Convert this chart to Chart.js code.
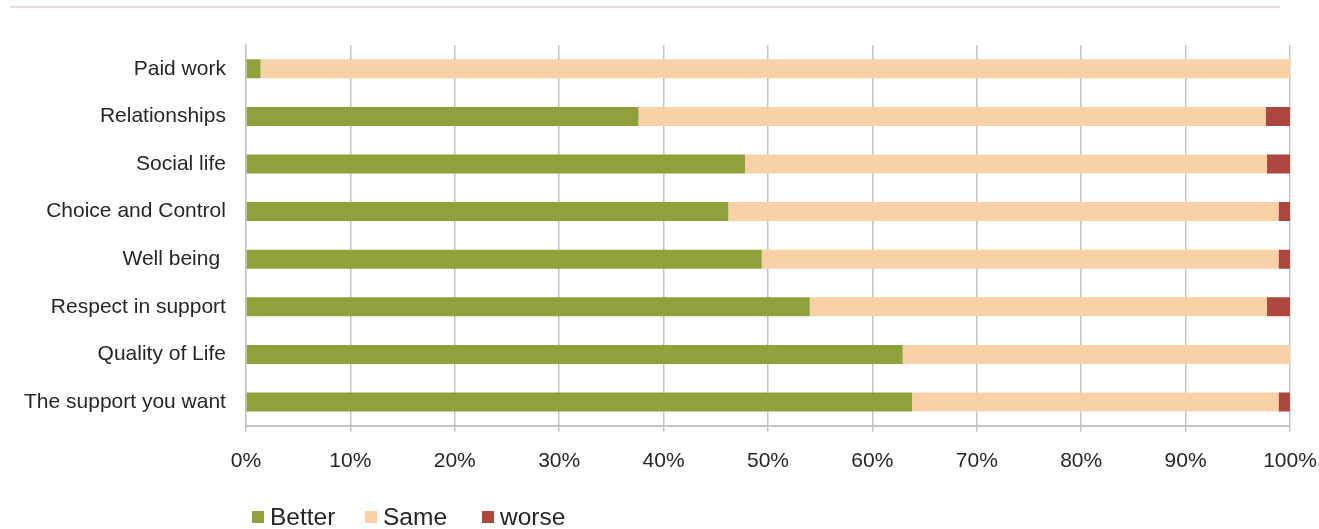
<!DOCTYPE html>
<html>
<head>
<meta charset="utf-8">
<script src="https://cdn.jsdelivr.net/npm/chart.js@4/dist/chart.umd.min.js"></script>
<style>
  html, body { margin: 0; padding: 0; background: #fff; overflow: hidden; }
  #wrap { position: relative; width: 1319px; height: 529px; overflow: hidden; }
  #chart { display: block; }
  #legend span.item { position: absolute; top: 503px; font: 24.5px Arial, "Liberation Sans", sans-serif; color: #262626; white-space: nowrap; }
  #legend i { display: inline-block; width: 12px; height: 12px; margin-right: 6px; vertical-align: 2px; }
</style>
</head>
<body>
<div id="wrap"><canvas id="chart"></canvas><div id="legend"></div></div>
<script>
// categories, top to bottom
var categories = ['Paid work', 'Relationships', 'Social life', 'Choice and Control',
  'Well being ', 'Respect in support', 'Quality of Life', 'The support you want'];

// percentages
var better = [1.4, 37.6, 47.8, 46.2, 49.4, 54.0, 62.9, 63.8];
var same   = [98.6, 60.1, 50.0, 52.7, 49.5, 43.8, 37.1, 35.1];
var worse  = [0, 2.3, 2.2, 1.1, 1.1, 2.2, 0, 1.1];

var seriesNames = ['Better', 'Same', 'worse'];
var seriesColors = ['#8fa13a', '#f9d1a7', '#ab473e'];
var xTicks = [0, 10, 20, 30, 40, 50, 60, 70, 80, 90, 100];

//粉色顶线
var topLine = {
  id: 'topLine',
  beforeDraw: function(chart){
    var ctx = chart.ctx;
    ctx.save();
    ctx.fillStyle = '#f1d9e5';
    ctx.fillRect(10, 6, 1270, 2);
    ctx.restore();
  }
};

var font = 'Arial, "Liberation Sans", Helvetica, sans-serif';

var chart = new Chart(document.getElementById('chart'), {
  type: 'bar',
  data: {
    labels: categories,
    datasets: [better, same, worse].map(function(d, i){
      return { label: seriesNames[i], data: d, backgroundColor: seriesColors[i] };
    })
  },
  options: {
    indexAxis: 'y',
    responsive: true,
    maintainAspectRatio: false,
    animation: false,
    layout: { padding: { top: 45, right: 29, left: 4, bottom: 38 } },
    datasets: { bar: { barPercentage: 0.4, categoryPercentage: 1 } },
    scales: {
      x: {
        stacked: true,
        min: 0, max: 100,
        afterBuildTicks: function(axis){
          axis.ticks = xTicks.map(function(v){ return { value: v }; });
        },
        afterFit: function(axis){
          axis.paddingRight = 0;
        },
        ticks: {
          callback: function(v){ return v + '%'; },
          color: '#262626',
          font: { family: font, size: 21 },
          padding: 17,
          maxRotation: 0
        },
        grid: { color: '#c4c4c4', lineWidth: 1.5, tickLength: 6 },
        border: { color: '#c4c4c4', width: 2 }
      },
      y: {
        stacked: true,
        ticks: {
          color: '#262626',
          font: { family: font, size: 21 },
          padding: 20
        },
        grid: { display: false, drawTicks: false },
        border: { color: '#c4c4c4', width: 1.5 }
      }
    },
    plugins: {
      legend: { display: false },
      tooltip: { enabled: false }
    }
  },
  plugins: [topLine]
});

//图例
var legend = document.getElementById('legend'), legendX = [252, 365, 482];
seriesNames.forEach(function(name, i){
  var item = document.createElement('span');
  item.className = 'item';
  item.style.left = legendX[i] + 'px';
  var box = document.createElement('i');
  box.style.background = seriesColors[i];
  item.appendChild(box);
  item.appendChild(document.createTextNode(name));
  legend.appendChild(item);
});
</script>
</body>
</html>
